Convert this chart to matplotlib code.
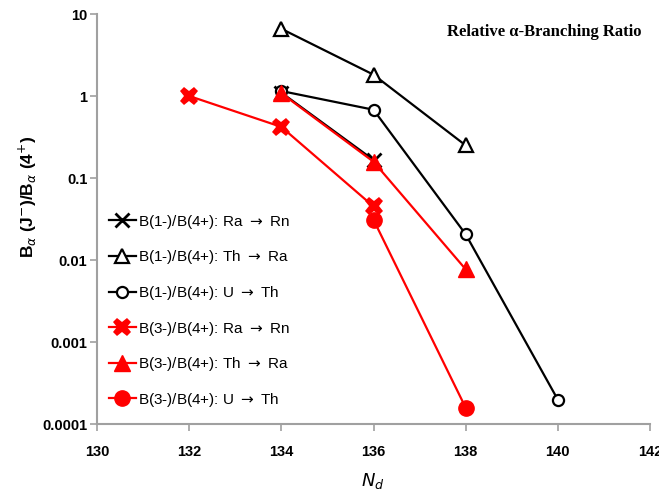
import matplotlib
matplotlib.use("Agg")
import matplotlib.pyplot as plt

plt.rcParams['font.family'] = ['Liberation Sans', 'DejaVu Sans']

# series: neutron number of daughter vs relative alpha branching ratio
nd_ra1 = [134, 136]
br_ra1 = [1.1, 0.166]
nd_th1 = [134, 136, 138]
br_th1 = [6.6, 1.82, 0.25]
nd_u1 = [134, 136, 138, 140]
br_u1 = [1.15, 0.68, 0.0206, 0.000198]
nd_ra3 = [132, 134, 136]
br_ra3 = [1.0, 0.42, 0.045]
nd_th3 = [134, 136, 138]
br_th3 = [1.08, 0.158, 0.0077]
nd_u3 = [136, 138]
br_u3 = [0.031, 0.000158]

labels = [r"B(1-)/B(4+): Ra $\rightarrow$ Rn", r"B(1-)/B(4+): Th $\rightarrow$ Ra",
          r"B(1-)/B(4+): U $\rightarrow$ Th", r"B(3-)/B(4+): Ra $\rightarrow$ Rn",
          r"B(3-)/B(4+): Th $\rightarrow$ Ra", r"B(3-)/B(4+): U $\rightarrow$ Th"]
xticks = [130, 132, 134, 136, 138, 140, 142]
yticks = [0.0001, 0.001, 0.01, 0.1, 1, 10]
yticklabels = ["0.0001", "0.001", "0.01", "0.1", "1", "10"]

fig = plt.figure(figsize=(6.59, 4.95), dpi=100)
ax = fig.add_axes([97 / 659, 1 - 424 / 495, 553 / 659, 410 / 495])

ax.plot(nd_ra1, br_ra1, color="black", lw=1.6, marker="x", ms=10, mew=2, label=labels[0])
ax.plot(nd_th1, br_th1, color="black", lw=1.6, marker="^", ms=10, mew=1.6,
        mfc="white", label=labels[1])
ax.plot(nd_u1, br_u1, color="black", lw=1.6, marker="o", ms=8, mew=1.6,
        mfc="white", label=labels[2])
ax.plot(nd_ra3, br_ra3, color="red", lw=1.6, marker="X", ms=13, mew=0, label=labels[3])
ax.plot(nd_th3, br_th3, color="red", lw=1.6, marker="^", ms=11, label=labels[4])
ax.plot(nd_u3, br_u3, color="red", lw=1.6, marker="o", ms=11, label=labels[5])

ax.set_yscale("log")
ax.set_xlim(130, 142)
ax.set_ylim(0.0001, 10)
ax.set_xticks(xticks)
ax.set_yticks(yticks)
ax.set_yticklabels(yticklabels)
ax.minorticks_off()
for lab in ax.get_xticklabels() + ax.get_yticklabels():
    lab.set_fontweight("bold")
    lab.set_fontsize(10.5)
ax.tick_params(axis="both", color="#a0a0a0", length=5, width=1.2)
ax.tick_params(axis="x", pad=10)
ax.tick_params(axis="y", pad=2)
for s in ["top", "right"]:
    ax.spines[s].set_visible(False)
for s in ["left", "bottom"]:
    ax.spines[s].set_color("#a0a0a0")
    ax.spines[s].set_linewidth(1.5)

ax.set_xlabel(r"$\boldsymbol{N_d}$", fontsize=13)
ax.xaxis.set_label_coords(0.498, -0.115)
ax.set_ylabel(r"B$_\alpha$ (J$^{-}$)/B$_\alpha$ (4$^{+}$)", fontsize=12.5, fontweight="bold")
ax.yaxis.set_label_coords(-0.105, 0.553)

ax.text(0.985, 0.955, "Relative \u03b1-Branching Ratio", transform=ax.transAxes,
        ha="right", va="center", fontsize=12, fontweight="bold", family="Liberation Serif")

ax.legend(loc="upper left", bbox_to_anchor=(0.01, 0.53), frameon=False, fontsize=11,
          handlelength=1.8, handletextpad=0.1, labelspacing=1.15, borderaxespad=0)

fig.savefig("out.png", dpi=100)
